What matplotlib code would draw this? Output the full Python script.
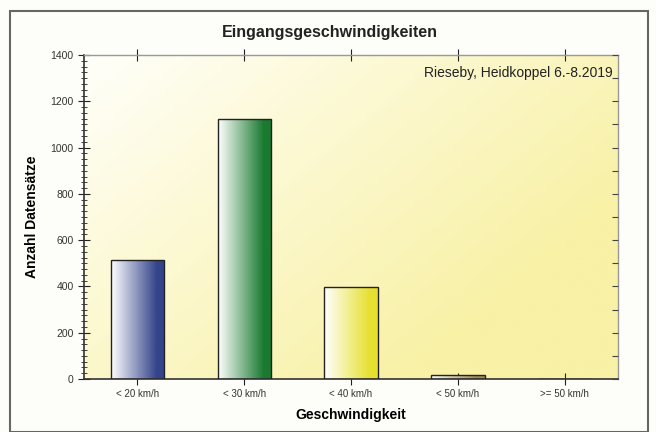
import numpy as np
import matplotlib
matplotlib.use("Agg")
import matplotlib.pyplot as plt
from matplotlib.colors import LinearSegmentedColormap
from matplotlib.patches import Rectangle
from matplotlib.ticker import MultipleLocator

plt.rcParams['font.family'] = ['Liberation Sans', 'DejaVu Sans']

categories = ["< 20 km/h", "< 30 km/h", "< 40 km/h", "< 50 km/h", ">= 50 km/h"]
values = [514, 1123, 398, 16, 2]
bar_colors = ["#34448a", "#1a7a30", "#e6e030", "#a08850", "#404030"]

fig = plt.figure(figsize=(6.56, 4.32), dpi=100)
fig.patch.set_facecolor("#fdfdf9")
fig.add_artist(Rectangle((10/656, 0.0), 638/656, 1 - 11/432, transform=fig.transFigure,
                         fill=False, edgecolor="#666666", linewidth=1.5))

ax = fig.add_axes([84/656, 1 - 379/432, 534/656, 324/432])
x = np.arange(len(categories))
xlim = (-0.5, len(categories) - 0.5)
ylim = (0, 1400)

# background gradient: white at top-left to yellow toward bottom/right
n = 200
gx, gy = np.meshgrid(np.linspace(0, 1, n), np.linspace(0, 1, n))
t = np.clip(gx * 0.75 + gy * 0.55, 0, 1)
bg_cmap = LinearSegmentedColormap.from_list("bg", ["#fffffa", "#fcf8cf", "#f8f1a6"])
ax.imshow(t, cmap=bg_cmap, extent=[xlim[0], xlim[1], ylim[0], ylim[1]], origin='upper',
          aspect='auto', zorder=0, vmin=0, vmax=1, interpolation='bilinear')

width = 0.5
bars = ax.bar(x, values, width=width, color='none', edgecolor='#222222', linewidth=1.0, zorder=3)
grad = np.linspace(0, 1, 256).reshape(1, -1)
for b, c in zip(bars, bar_colors):
    cm = LinearSegmentedColormap.from_list("b", [(0, "#ffffff"), (0.85, c), (1, c)])
    x0, y0 = b.get_x(), b.get_y()
    w, h = b.get_width(), b.get_height()
    im = ax.imshow(grad, cmap=cm, extent=[x0, x0 + w, y0, y0 + h], aspect='auto', zorder=2)
    im.set_clip_path(Rectangle((x0, y0), w, h, transform=ax.transData))
ax.set_xlim(*xlim)
ax.set_ylim(*ylim)

ax.set_xticks(x)
ax.set_xticklabels(categories, fontsize=7, color="#333333")
ax.yaxis.set_major_locator(MultipleLocator(200))
ax.yaxis.set_minor_locator(MultipleLocator(25))
ax.tick_params(axis='y', which='major', direction='inout', length=8, labelsize=7.5,
               labelcolor="#333333", color="#222222")
ax.tick_params(axis='y', which='minor', direction='inout', length=4, color="#222222")
ax.tick_params(axis='x', which='major', direction='inout', length=8, labelsize=7, top=True,
               color="#222222")
for sp in ['top', 'right']:
    ax.spines[sp].set_color("#999999")
    ax.spines[sp].set_linewidth(1.0)
for sp in ['left', 'bottom']:
    ax.spines[sp].set_color("#333333")
    ax.spines[sp].set_linewidth(1.2)

# right-side inward ticks
axr = ax.twinx()
axr.set_ylim(*ylim)
axr.yaxis.set_major_locator(MultipleLocator(100))
axr.tick_params(axis='y', direction='in', length=4, labelright=False, color="#444444")
for sp in axr.spines.values():
    sp.set_visible(False)

ax.set_ylabel("Anzahl Datensätze", fontsize=10, fontweight='bold', labelpad=8)
ax.set_xlabel("Geschwindigkeit", fontsize=10, fontweight='bold', labelpad=6)
ax.text(0.99, 0.965, "Rieseby, Heidkoppel 6.-8.2019", transform=ax.transAxes,
        ha='right', va='top', fontsize=10, color="#222222")
fig.text(330/656, 1 - 32/432, "Eingangsgeschwindigkeiten", ha='center', va='center',
         fontsize=11.5, fontweight='bold', color="#222222")

fig.savefig("out.png", dpi=100, facecolor=fig.get_facecolor())
